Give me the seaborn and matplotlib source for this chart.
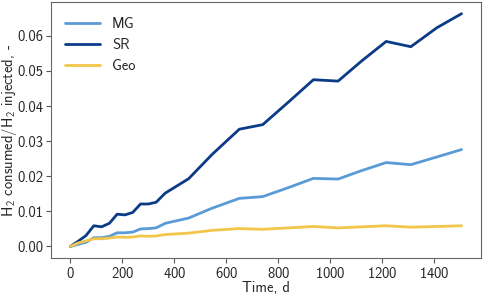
import numpy as np
import pandas as pd
import matplotlib
matplotlib.use("Agg")
import matplotlib.pyplot as plt
import seaborn as sns

# time points, days
time_d = [0, 30, 60, 90, 120, 150, 180, 210, 240, 270, 300, 330, 365, 455, 545,
          650, 740, 840, 935, 1030, 1120, 1215, 1310, 1410, 1505]

# H2 consumed / H2 injected
mg = [0, 0.0006, 0.0012, 0.0025, 0.0025, 0.0029, 0.0039, 0.0039, 0.0041, 0.0050,
      0.0051, 0.0053, 0.0066, 0.0081, 0.0109, 0.0137, 0.0142, 0.0168, 0.0194,
      0.0192, 0.0216, 0.0239, 0.0233, 0.0255, 0.0276]
sr = [0, 0.0015, 0.0031, 0.0059, 0.0056, 0.0066, 0.0092, 0.0090, 0.0097, 0.0121,
      0.0121, 0.0126, 0.0152, 0.0193, 0.0262, 0.0334, 0.0347, 0.0412, 0.0475,
      0.0471, 0.0528, 0.0584, 0.0569, 0.0623, 0.0663]
geo = [0, 0.0010, 0.0016, 0.0022, 0.0022, 0.0024, 0.0027, 0.0026, 0.0027, 0.0030,
       0.0029, 0.0030, 0.0034, 0.0038, 0.0046, 0.0051, 0.0049, 0.0053, 0.0057,
       0.0053, 0.0056, 0.0059, 0.0055, 0.0057, 0.0059]

series = ["MG", "SR", "Geo"]
colors = ["#5b9bd5", "#0b3b86", "#f2c64a"]

df = pd.DataFrame({"time": time_d * 3,
                   "ratio": mg + sr + geo,
                   "model": np.repeat(series, len(time_d))})

sns.set_style("ticks")
# computer modern sans (ships with matplotlib) to match the latex look
plt.rcParams["font.family"] = ["cmss10", "DejaVu Sans"]
plt.rcParams["mathtext.fontset"] = "custom"
plt.rcParams["mathtext.rm"] = "cmss10"
plt.rcParams["mathtext.it"] = "cmss10"
plt.rcParams["mathtext.bf"] = "cmss10"
plt.rcParams["axes.formatter.use_mathtext"] = True
plt.rcParams["font.size"] = 10.5

fig, ax = plt.subplots(figsize = (4.84, 2.95), dpi = 100)
sns.lineplot(data = df, x = "time", y = "ratio", hue = "model", hue_order = series,
             palette = colors, linewidth = 2, ax = ax)

ax.set_xlabel("Time, d", fontsize = 10.5)
ax.set_ylabel(r"H$_2$ consumed/H$_2$ injected, -", fontsize = 10.5)
ax.xaxis.set_label_coords(0.5, -0.088)
ax.yaxis.set_label_coords(-0.075, 0.5)
ax.set_xticks([0, 200, 400, 600, 800, 1000, 1200, 1400])
ax.set_yticks([0.0, 0.01, 0.02, 0.03, 0.04, 0.05, 0.06])
ax.yaxis.set_major_formatter(matplotlib.ticker.FormatStrFormatter("%.2f"))
ax.tick_params(labelsize = 10.5, length = 3.5, color = "#555555", pad = 2)
for sp in ax.spines.values():
    sp.set_visible(True)
    sp.set_color("#666666")
ax.legend(loc = "upper left", frameon = False, handlelength = 2.4, fontsize = 10.5,
          borderaxespad = 0.6)

plt.subplots_adjust(left = 0.105, right = 0.994, top = 0.993, bottom = 0.125)
fig.savefig("out.png", dpi = 100)
